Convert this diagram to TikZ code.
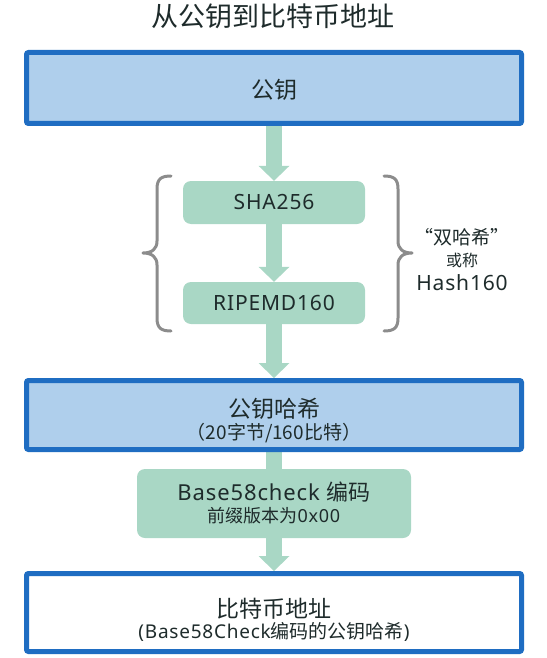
\documentclass[tikz,border=0pt]{standalone}
\usepackage{fontspec}
\setmainfont{Noto Sans}[LetterSpace=4]
\newfontfamily\cjk{Noto Sans CJK SC}
\usetikzlibrary{arrows.meta,backgrounds}
\definecolor{boxblue}{HTML}{AFCFEC}
\definecolor{edgeblue}{HTML}{1F6DC2}
\definecolor{flowgreen}{HTML}{A9D7C5}
\definecolor{bracegray}{HTML}{8C8C8C}
\definecolor{inkc}{HTML}{1E2B2B}
\newcommand{\zh}[1]{{\cjk #1}}
\newcommand{\fs}[1]{\fontsize{#1}{#1}\selectfont}
\begin{document}
\begin{tikzpicture}[x=1pt,y=-1pt,
  bluebox/.style={draw=edgeblue, line width=5pt, fill=boxblue, rounded corners=2pt,
                  minimum width=495pt, inner sep=0pt},
  greenbox/.style={fill=flowgreen, rounded corners=8pt, inner sep=0pt},
  lbl/.style={inner sep=0pt, text=inkc},
  flow/.style={draw=flowgreen, line width=16pt,
               -{Triangle[width=31pt,length=15pt,line width=0pt]}},
  shaft/.style={draw=flowgreen, line width=16pt},
  bracestyle/.style={draw=bracegray, line width=3pt, line cap=round, line join=round}]
\useasboundingbox (0,0) rectangle (546,658);

% title
\node[lbl, font=\fs{27}] (title) at (272.5,16) {\zh{从公钥到比特币地址}};

% boxes
\node[bluebox, minimum height=71pt] (pk) at (274,88) {};
\node[lbl, font=\fs{23}] (pktext) at (274,90) {\zh{公钥}};

\node[greenbox, minimum width=182pt, minimum height=43pt] (sha) at (274,202.5) {};
\node[lbl, font=\fs{21}] (shatext) at (sha.center) {SHA256};

\node[greenbox, minimum width=182pt, minimum height=42pt] (rip) at (274,303) {};
\node[lbl, font=\fs{21}] (riptext) at (rip.center) {RIPEMD160};

\node[bluebox, minimum height=69pt] (pkh) at (274,415) {};
\node[lbl, font=\fs{23}] (pkhtext) at (274,409) {\zh{公钥哈希}};
\node[lbl, font=\fs{19}] (pkhsub) at (274,433.5) {\zh{（20字节/160比特）}};

\node[greenbox, minimum width=274pt, minimum height=69pt] (b58) at (274,503.5) {};
\node[lbl, font=\fs{22}] (b58text) at (274,492.5) {Base58check \zh{编码}};
\node[lbl, font=\fs{18}] (b58sub) at (274,516) {\zh{前缀版本为}0x00};

\node[bluebox, fill=white, minimum height=78pt] (addr) at (274,612.5) {};
\node[lbl, font=\fs{23}] (addrtext) at (274,609) {\zh{比特币地址}};
\node[lbl, font=\fs{19}] (addrsub) at (274,632) {(Base58Check\zh{编码的公钥哈希})};

% right-hand label
\node[lbl, font=\fs{19}] (dbl) at (462,237) {\zh{“双哈希”}};
\node[lbl, font=\fs{16}] (orcall) at (462,260) {\zh{或称}};
\node[lbl, font=\fs{21}] (h160) at (462,283) {Hash160};

% braces
\draw[bracestyle] (171,176) .. controls (161,176) and (157,179) .. (157,189)
  -- (157,241) .. controls (157,249) and (152,253) .. (143,253)
  .. controls (152,253) and (157,257) .. (157,265)
  -- (157,318) .. controls (157,328) and (161,331) .. (171,331);
\draw[bracestyle] (384,176) .. controls (394,176) and (398,179) .. (398,189)
  -- (398,241) .. controls (398,249) and (403,253) .. (412,253)
  .. controls (403,253) and (398,257) .. (398,265)
  -- (398,318) .. controls (398,328) and (394,331) .. (384,331);

% connectors
\begin{scope}[on background layer]
\draw[flow] (pk.south) -- (sha.north);
\draw[flow] (sha.south) -- (rip.north);
\draw[flow] (rip.south) -- (pkh.north);
\draw[shaft] (pkh.south) -- (pkh.south |- b58.north);
\draw[flow] (b58.south) -- (addr.north);
\end{scope}
\end{tikzpicture}
\end{document}
